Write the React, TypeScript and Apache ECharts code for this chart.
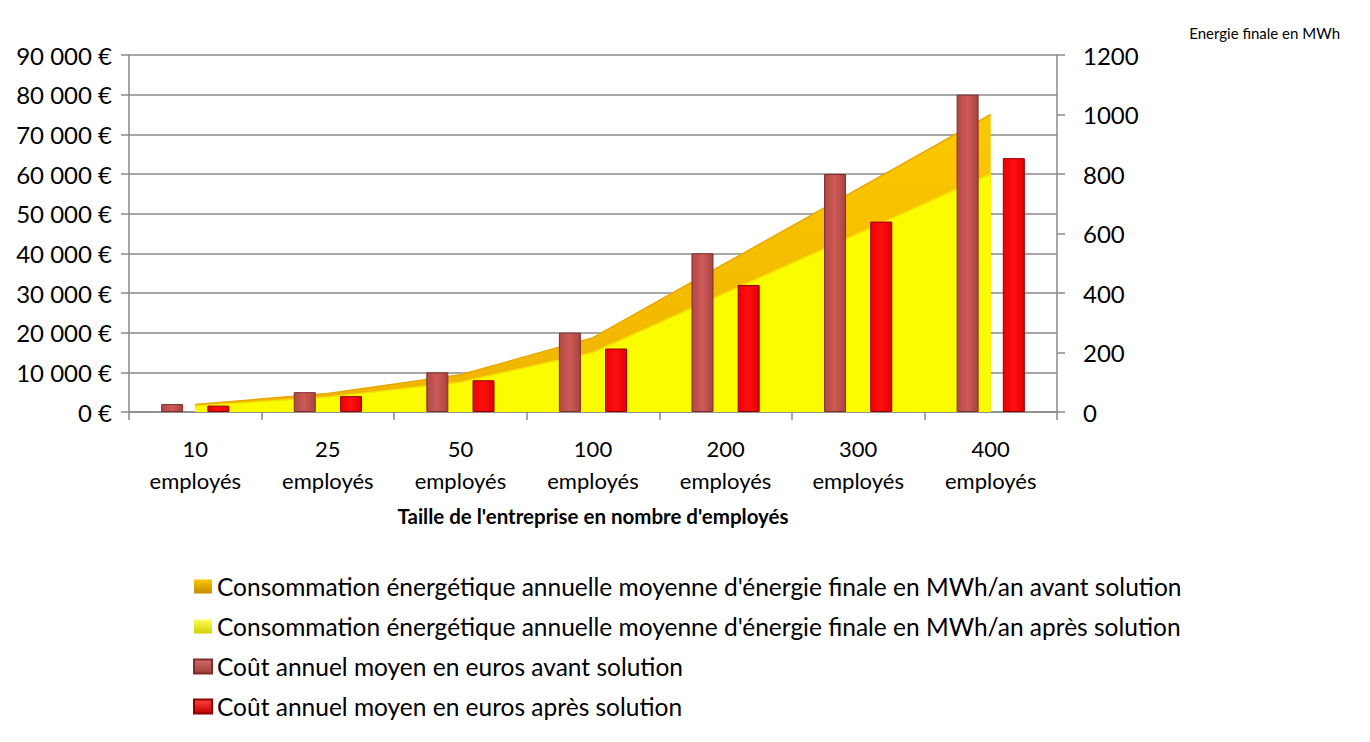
import React, { useEffect, useRef } from "react";
import * as echarts from "echarts";

const categories = [
  "10\nemployés",
  "25\nemployés",
  "50\nemployés",
  "100\nemployés",
  "200\nemployés",
  "300\nemployés",
  "400\nemployés",
];
const energieAvant = [25, 62.5, 125, 250, 500, 750, 1000];
const energieApres = [20, 50, 100, 200, 400, 600, 800];
const coutAvant = [2000, 5000, 10000, 20000, 40000, 60000, 80000];
const coutApres = [1600, 4000, 8000, 16000, 32000, 48000, 64000];

const seriesNames = [
  "Consommation énergétique annuelle moyenne d'énergie finale en MWh/an avant solution",
  "Consommation énergétique annuelle moyenne d'énergie finale en MWh/an après solution",
  "Coût annuel moyen en euros avant solution",
  "Coût annuel moyen en euros après solution",
];

const FONT = "Lato, 'Open Sans', sans-serif";

const fmtEuro = (v: number) =>
  String(v).replace(/\B(?=(\d{3})+(?!\d))/g, " ") + " €";

export default function App() {
  const ref = useRef<HTMLDivElement>(null);
  useEffect(() => {
    if (!ref.current) return;
    const chart = echarts.init(ref.current, undefined, { renderer: "svg" });
    const grey = "#8a8a8a";
    const legendIcon = (c1: string, c2: string) =>
      new echarts.graphic.LinearGradient(0, 0, 0, 1, [
        { offset: 0, color: c1 },
        { offset: 1, color: c2 },
      ]);
    chart.setOption({
      animation: false,
      backgroundColor: "#ffffff",
      textStyle: { fontFamily: FONT },
      grid: { left: 129, right: 313, top: 55, height: 357 },
      graphic: [
        {
          type: "text",
          right: 30,
          top: 25,
          style: {
            text: "Energie finale en MWh",
            fontSize: 15,
            fontFamily: FONT,
            fill: "#000",
          },
        },
      ],
      legend: {
        orient: "vertical",
        left: 188,
        top: 569,
        itemGap: 15,
        itemWidth: 18,
        itemHeight: 14,
        icon: "rect",
        data: [
          { name: seriesNames[0], itemStyle: { color: legendIcon("#F7C800", "#C88A00") } },
          { name: seriesNames[1], itemStyle: { color: legendIcon("#FFFF60", "#D0D000") } },
          { name: seriesNames[2], itemStyle: { color: legendIcon("#D86A67", "#9E3E3B") } },
          { name: seriesNames[3], itemStyle: { color: legendIcon("#FF4040", "#C00000") } },
        ],
        textStyle: { fontSize: 24.5, color: "#000", fontFamily: FONT },
      },
      xAxis: {
        type: "category",
        data: categories,
        boundaryGap: true,
        name: "Taille de l'entreprise en nombre d'employés",
        nameLocation: "middle",
        nameGap: 93,
        nameTextStyle: { fontSize: 20.5, fontWeight: "bold", color: "#000", fontFamily: FONT },
        axisLine: { lineStyle: { color: grey, width: 1.5 } },
        axisTick: { show: true, length: 8, lineStyle: { color: grey, width: 1.5 } },
        axisLabel: { fontSize: 22, color: "#000", lineHeight: 32, margin: 20, fontFamily: FONT },
      },
      yAxis: [
        {
          type: "value",
          min: 0,
          max: 90000,
          interval: 10000,
          axisLine: { show: true, lineStyle: { color: grey, width: 1.5 } },
          axisTick: { show: true, length: 8, lineStyle: { color: grey, width: 1.5 } },
          splitLine: { show: true, lineStyle: { color: grey, width: 1.5 } },
          axisLabel: { fontSize: 24, color: "#000", margin: 17, formatter: fmtEuro, fontFamily: FONT },
        },
        {
          type: "value",
          min: 0,
          max: 1200,
          interval: 200,
          position: "right",
          axisLine: { show: true, lineStyle: { color: grey, width: 1.5 } },
          axisTick: { show: true, length: 8, lineStyle: { color: grey, width: 1.5 } },
          splitLine: { show: false },
          axisLabel: {
            fontSize: 24,
            color: "#000",
            margin: 26,
            fontFamily: FONT,
            formatter: (v: number) => String(v),
          },
        },
      ],
      series: [
        {
          name: seriesNames[0],
          type: "line",
          yAxisIndex: 1,
          data: energieAvant,
          symbol: "none",
          z: 1,
          itemStyle: { color: "#F5BE00" },
          lineStyle: { color: "#E8A800", width: 1.5 },
          areaStyle: {
            color: new echarts.graphic.LinearGradient(0, 0, 0, 1, [
              { offset: 0, color: "#FAC800" },
              { offset: 1, color: "#F0B400" },
            ]),
            opacity: 1,
          },
        },
        {
          name: seriesNames[1],
          type: "line",
          yAxisIndex: 1,
          data: energieApres,
          symbol: "none",
          z: 2,
          itemStyle: { color: "#FCFC00" },
          lineStyle: { color: "#F2E400", width: 1.5 },
          areaStyle: { color: "#FCFC00", opacity: 1 },
        },
        {
          name: seriesNames[2],
          type: "bar",
          yAxisIndex: 0,
          data: coutAvant,
          barWidth: 22,
          barGap: "110%",
          z: 3,
          itemStyle: {
            color: new echarts.graphic.LinearGradient(0, 0, 1, 0, [
              { offset: 0, color: "#B14946" },
              { offset: 0.5, color: "#CD5A57" },
              { offset: 1, color: "#A84340" },
            ]),
            borderColor: "#7E2E2C",
            borderWidth: 1,
          },
        },
        {
          name: seriesNames[3],
          type: "bar",
          yAxisIndex: 0,
          data: coutApres,
          barWidth: 22,
          barGap: "110%",
          z: 3,
          itemStyle: {
            color: new echarts.graphic.LinearGradient(0, 0, 1, 0, [
              { offset: 0, color: "#EE0000" },
              { offset: 0.5, color: "#FF1010" },
              { offset: 1, color: "#E00000" },
            ]),
            borderColor: "#8E0000",
            borderWidth: 1,
          },
        },
      ],
    });
    return () => chart.dispose();
  }, []);
  return (
    <div
      ref={ref}
      style={{ position: "absolute", left: 0, top: 0, width: 1370, height: 742 }}
    />
  );
}
